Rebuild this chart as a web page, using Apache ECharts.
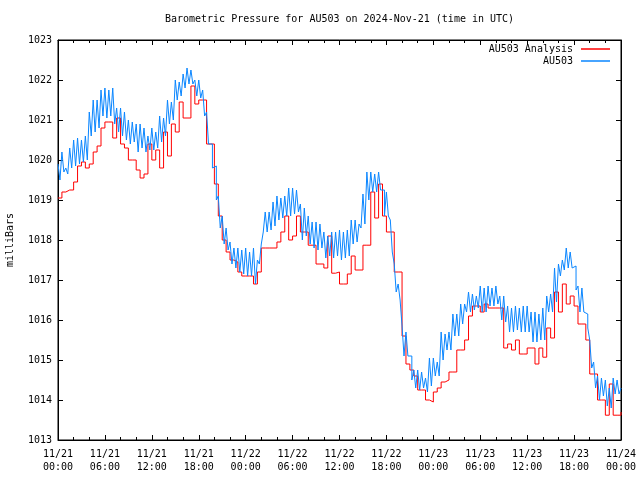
<!DOCTYPE html>
<html>
<head>
<meta charset="utf-8">
<script src="https://cdn.jsdelivr.net/npm/echarts@6/dist/echarts.min.js"></script>
<style>html,body{margin:0;padding:0;background:#fff}#c{width:640px;height:480px}</style>
</head>
<body>
<div id="c"></div>
<script>
// Hours since 2024-11-21 00:00 UTC; x ticks every 6 h
const xTickLabels = ['11/21\n00:00','11/21\n06:00','11/21\n12:00','11/21\n18:00','11/22\n00:00','11/22\n06:00','11/22\n12:00','11/22\n18:00','11/23\n00:00','11/23\n06:00','11/23\n12:00','11/23\n18:00','11/24\n00:00'];
const titleText = 'Barometric Pressure for AU503 on 2024-Nov-21 (time in UTC)';
const seriesNames = ['AU503 Analysis', 'AU503'];

// AU503 Analysis, every 30 minutes from 00:00
const analysisStepHours = 0.5;
const analysisValues = [
1019.05,1019.2,1019.25,1019.25,1019.45,1019.85,1019.95,1019.8,1019.9,1020.2,1020.35,1020.8,
1020.95,1020.95,1020.55,1021.05,1020.4,1020.3,1020.0,1020.0,1019.75,1019.55,1019.65,1020.4,
1020.0,1020.25,1019.8,1020.7,1020.1,1020.9,1020.7,1021.45,1021.05,1021.05,1021.85,1021.4,
1021.5,1021.5,1020.4,1020.4,1019.4,1018.6,1018.0,1017.7,1017.5,1017.45,1017.2,1017.1,
1017.1,1017.1,1016.9,1017.2,1017.8,1017.8,1017.8,1017.8,1017.95,1018.2,1018.6,1018.0,
1018.1,1018.6,1018.2,1018.2,1017.87,1017.87,1017.4,1017.4,1017.3,1018.1,1017.17,1017.2,
1016.9,1016.9,1017.15,1017.6,1017.25,1017.25,1017.87,1017.87,1019.2,1018.55,1019.4,1018.6,
1018.2,1018.2,1017.2,1017.2,1015.6,1014.9,1014.75,1014.6,1014.25,1014.25,1014.0,1013.95,
1014.2,1014.3,1014.45,1014.5,1014.7,1014.7,1015.25,1015.25,1015.5,1016.1,1016.35,1016.35,
1016.2,1016.4,1016.3,1016.3,1016.3,1016.3,1015.3,1015.4,1015.25,1015.5,1015.15,1015.15,
1015.3,1015.3,1014.9,1015.3,1015.07,1015.8,1015.55,1016.7,1016.2,1016.9,1016.4,1016.6,
1016.35,1015.9,1015.9,1015.5,1014.65,1014.65,1014.0,1014.0,1013.62,1014.4,1013.62,1013.62,
1013.7
];

// AU503 observations, every 15 minutes from 00:00
const obsStepHours = 0.25;
const obsValues = [
1019.9,1019.5,1020.2,1019.7,
1019.8,1019.65,1020.3,1019.8,
1020.5,1019.85,1020.55,1019.9,
1020.5,1019.95,1020.6,1020.0,
1021.2,1020.6,1021.5,1020.7,
1021.5,1020.8,1021.75,1021.1,
1021.8,1021.05,1021.75,1021.1,
1021.8,1020.9,1021.3,1020.7,
1021.3,1020.6,1021.2,1020.5,
1021.0,1020.4,1020.95,1020.45,
1020.9,1020.2,1020.9,1020.3,
1020.8,1020.2,1020.6,1020.25,
1020.8,1020.25,1020.7,1020.3,
1021.1,1020.45,1021.05,1020.6,
1021.5,1020.9,1021.45,1021.0,
1022.0,1021.5,1021.95,1021.6,
1022.15,1021.8,1022.3,1021.9,
1022.25,1021.9,1022.0,1021.6,
1022.0,1021.55,1021.75,1021.1,
1021.2,1020.4,1020.4,1019.8,
1019.85,1019.0,1019.1,1018.3,
1018.6,1017.9,1018.3,1017.75,
1017.95,1017.4,1017.8,1017.3,
1017.8,1017.2,1017.75,1017.15,
1017.8,1017.1,1017.7,1017.1,
1017.8,1016.9,1017.5,1017.4,
1017.9,1018.2,1018.7,1018.2,
1018.7,1018.25,1018.95,1018.35,
1019.1,1018.5,1019.05,1018.55,
1019.1,1018.6,1019.3,1018.6,
1019.3,1018.65,1019.25,1018.7,
1018.9,1018.0,1018.8,1018.1,
1018.6,1017.9,1018.45,1017.8,
1018.45,1017.75,1018.4,1017.8,
1018.2,1017.55,1018.1,1017.6,
1018.2,1017.55,1018.2,1017.6,
1018.25,1017.5,1018.2,1017.55,
1018.25,1017.6,1018.5,1017.9,
1018.5,1017.95,1018.4,1018.3,
1019.15,1018.4,1019.7,1019.0,
1019.7,1019.2,1019.65,1019.2,
1019.7,1019.25,1019.25,1018.6,
1019.2,1018.6,1018.5,1017.7,
1017.4,1016.7,1016.9,1016.5,
1015.85,1015.1,1015.7,1015.1,
1015.1,1014.5,1014.75,1014.3,
1014.75,1014.25,1014.7,1014.3,
1014.55,1014.2,1015.05,1014.35,
1015.05,1014.6,1014.95,1014.6,
1015.7,1015.0,1015.65,1015.25,
1015.7,1015.25,1016.15,1015.6,
1016.15,1015.6,1016.4,1015.9,
1016.4,1016.2,1016.7,1016.2,
1016.65,1016.25,1016.6,1016.3,
1016.85,1016.2,1016.8,1016.2,
1016.85,1016.35,1016.8,1016.35,
1016.85,1016.4,1016.6,1016.0,
1016.6,1015.95,1016.35,1015.7,
1016.3,1015.7,1016.35,1015.75,
1016.3,1015.7,1016.35,1015.7,
1016.35,1015.7,1016.2,1015.45,
1016.2,1015.45,1016.15,1015.5,
1016.3,1015.5,1016.6,1016.2,
1016.65,1016.2,1017.3,1016.45,
1017.4,1017.1,1017.5,1017.25,
1017.8,1017.3,1017.7,1017.3,
1017.35,1016.75,1016.85,1016.2,
1016.8,1016.2,1016.15,1015.8,
1015.5,1014.8,1014.95,1014.3,
1014.6,1014.0,1014.55,1014.1,
1014.5,1013.85,1014.3,1013.8,
1014.55,1014.15,1014.5,1014.15,
1014.3
];

const FONT = '"DejaVu Sans Mono", "Liberation Mono", monospace';
const RED = '#ff0000';
const BLUE = '#0a86ff';

const analysisData = analysisValues.map((v, i) => [i * analysisStepHours, v]);
const obsData = obsValues.map((v, i) => [i * obsStepHours, v]);

const chart = echarts.init(document.getElementById('c'), null, {renderer: 'canvas'});

const xBase = {
  type: 'value', min: 0, max: 72, interval: 6,
  axisLine: {show: true, onZero: false, lineStyle: {color: '#000', width: 1}},
  axisTick: {show: true, inside: true, length: 5, lineStyle: {color: '#000'}},
  minorTick: {show: true, splitNumber: 3, length: 3, lineStyle: {color: '#000'}},
  splitLine: {show: false}, minorSplitLine: {show: false}
};
const yBase = {
  type: 'value', min: 1013, max: 1023, interval: 1,
  axisLine: {show: true, onZero: false, lineStyle: {color: '#000', width: 1}},
  axisTick: {show: true, inside: true, length: 5, lineStyle: {color: '#000'}},
  splitLine: {show: false}
};

chart.setOption({
  animation: false,
  backgroundColor: '#fff',
  grid: {left: 58, right: 19, top: 40, bottom: 40, show: true, borderColor: '#000', borderWidth: 1, containLabel: false},
  xAxis: [
    Object.assign({}, xBase, {
      position: 'bottom',
      axisLabel: {show: true, margin: 8, color: '#000', fontFamily: FONT, fontSize: 10, lineHeight: 13,
        formatter: v => xTickLabels[Math.round(v / 6)]}
    }),
    Object.assign({}, xBase, {position: 'top', axisLabel: {show: false}})
  ],
  yAxis: [
    Object.assign({}, yBase, {
      position: 'left',
      axisLabel: {show: true, margin: 6, color: '#000', fontFamily: FONT, fontSize: 10,
        formatter: v => String(Math.round(v))}
    }),
    Object.assign({}, yBase, {position: 'right', axisLabel: {show: false}})
  ],
  legend: [
    {data: [seriesNames[0]], right: 30, top: 44, padding: 0, align: 'right', icon: 'rect', itemWidth: 29, itemHeight: 1.5, itemGap: 0,
      textStyle: {color: '#000', fontFamily: FONT, fontSize: 10, padding: [0, 3, 0, 0]}},
    {data: [seriesNames[1]], right: 30, top: 56, padding: 0, align: 'right', icon: 'rect', itemWidth: 29, itemHeight: 1.5, itemGap: 0,
      textStyle: {color: '#000', fontFamily: FONT, fontSize: 10, padding: [0, 3, 0, 0]}}
  ],
  graphic: [
    {type: 'text', x: 339.5, y: 19, style: {text: titleText, fill: '#000', font: '10px ' + FONT, align: 'center', verticalAlign: 'middle'}},
    {type: 'text', x: 10, y: 240, rotation: Math.PI / 2, style: {text: 'milliBars', fill: '#000', font: '10px ' + FONT, align: 'center', verticalAlign: 'middle'}}
  ],
  series: [
    {name: seriesNames[0], type: 'line', step: 'end', data: analysisData, xAxisIndex: 0, yAxisIndex: 0,
      showSymbol: false, symbol: 'none', color: RED, lineStyle: {color: RED, width: 1}, z: 2},
    {name: seriesNames[1], type: 'line', step: 'end', data: obsData, xAxisIndex: 0, yAxisIndex: 0,
      showSymbol: false, symbol: 'none', color: BLUE, lineStyle: {color: BLUE, width: 1}, z: 3}
  ]
});
</script>
</body>
</html>
